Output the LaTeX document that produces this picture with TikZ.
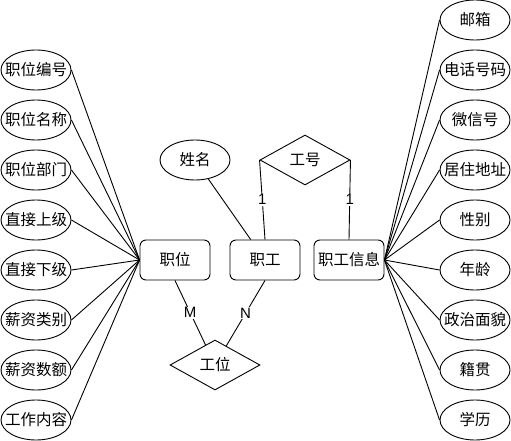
\documentclass[tikz,border=0pt]{standalone}
\usepackage{fontspec}
\setmainfont{Noto Sans CJK SC}
\newfontfamily\latinfont{Liberation Sans}
\usetikzlibrary{shapes.geometric}
\begin{document}
\begin{tikzpicture}[x=1pt,y=-1pt,line width=0.9pt,
  attr/.style={draw,ellipse,fill=white,minimum width=70pt,minimum height=40pt,inner sep=0pt,font=\fontsize{15.5}{16}\selectfont},
  ent/.style={draw,rounded corners=6pt,fill=white,minimum width=70pt,minimum height=40pt,inner sep=0pt,font=\fontsize{15.5}{16}\selectfont},
  rel/.style={draw,diamond,fill=white,minimum width=90pt,minimum height=50pt,inner sep=0pt,font=\fontsize{15.5}{16}\selectfont},
  card/.style={fill=white,inner sep=1pt,font=\latinfont\fontsize{15}{16}\selectfont}]
\useasboundingbox (0,0) rectangle (511,441);
% entities
\node[ent] (zw) at (175,260) {职位};
\node[ent] (zg) at (265,260) {职工};
\node[ent] (zx) at (349,260) {职工信息};
% relations
\node[rel] (gh) at (305,160) {工号};
\node[rel] (gw) at (215,365) {工位};
% name attribute
\node[attr] (xm) at (195,160) {姓名};
% left attributes
\node[attr] (l1) at (36,70) {\makebox[0pt]{职位编号}};
\node[attr] (l2) at (36,120) {\makebox[0pt]{职位名称}};
\node[attr] (l3) at (36,170) {\makebox[0pt]{职位部门}};
\node[attr] (l4) at (36,220) {\makebox[0pt]{直接上级}};
\node[attr] (l5) at (36,270) {\makebox[0pt]{直接下级}};
\node[attr] (l6) at (36,320) {\makebox[0pt]{薪资类别}};
\node[attr] (l7) at (36,370) {\makebox[0pt]{薪资数额}};
\node[attr] (l8) at (36,420) {\makebox[0pt]{工作内容}};
% right attributes
\node[attr] (r1) at (475,20) {邮箱};
\node[attr] (r2) at (475,70) {\makebox[0pt]{电话号码}};
\node[attr] (r3) at (475,120) {\makebox[0pt]{微信号}};
\node[attr] (r4) at (475,170) {\makebox[0pt]{居住地址}};
\node[attr] (r5) at (475,220) {性别};
\node[attr] (r6) at (475,270) {年龄};
\node[attr] (r7) at (475,320) {\makebox[0pt]{政治面貌}};
\node[attr] (r8) at (475,370) {籍贯};
\node[attr] (r9) at (475,420) {学历};
% connectors
\foreach \i in {1,...,8} {\draw (l\i.east) -- (zw.west);}
\foreach \i in {1,...,9} {\draw (r\i.west) -- (zx.east);}
\draw (xm) -- (zg);
\draw (gh.west) -- node[card]{1} (zg.north);
\draw (gh.east) -- node[card]{1} (zx.north);
\draw (zw.south) -- node[card]{M} (gw);
\draw (zg.south) -- node[card]{N} (gw);
\end{tikzpicture}
\end{document}
